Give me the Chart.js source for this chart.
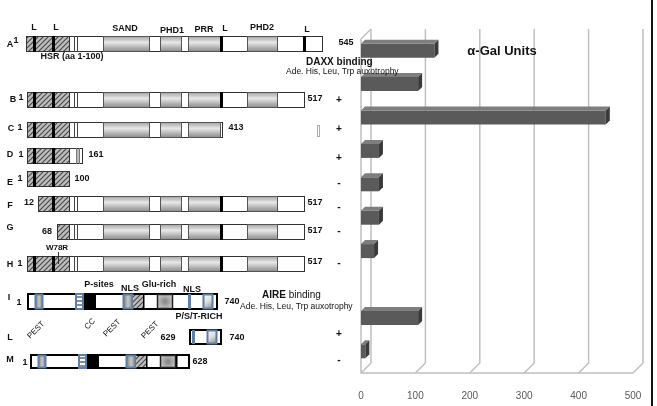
<!DOCTYPE html>
<html>
<head>
<meta charset="utf-8">
<script src="https://cdn.jsdelivr.net/npm/chart.js@4.4.1/dist/chart.umd.min.js"></script>
<style>
  html, body { margin: 0; padding: 0; background: #fff; }
  canvas { display: block; }
</style>
</head>
<body>
<canvas id="galChart" width="657" height="406"></canvas>
<script>
// alpha-Gal units per construct (row H has no bar)
const constructs = ["A", "B", "C", "D", "E", "F", "G", "H", "L", "M"];
const galUnits = [135, 105, 450, 33, 33, 33, 24, 0, 105, 8];
const xTicks = [0, 100, 200, 300, 400, 500];

const FONT = "'Liberation Sans', Arial, sans-serif";
const DEPTH = 10;
const BAR_DEPTH = 4;
const BLUE = "#5a7fa8";

// ---------- left schematic helpers ----------

let hatchPattern = null;

function getHatch(ctx) {
  if (hatchPattern) return hatchPattern;
  const c = document.createElement("canvas");
  c.width = 5;
  c.height = 5;
  const p = c.getContext("2d");
  p.fillStyle = "#bdbdbd";
  p.fillRect(0, 0, 5, 5);
  p.strokeStyle = "#4a4a4a";
  p.lineWidth = 1.2;
  p.beginPath();
  p.moveTo(0, 5); p.lineTo(5, 0);
  p.moveTo(-1, 1); p.lineTo(1, -1);
  p.moveTo(4, 6); p.lineTo(6, 4);
  p.stroke();
  hatchPattern = ctx.createPattern(c, "repeat");
  return hatchPattern;
}

function rect(ctx, x1, x2, y, h, fill, stroke, lw) {
  ctx.fillStyle = fill;
  ctx.fillRect(x1, y, x2 - x1, h);
  if (stroke) {
    ctx.strokeStyle = stroke;
    ctx.lineWidth = lw || 1;
    ctx.strokeRect(x1 + 0.5, y + 0.5, x2 - x1 - 1, h - 1);
  }
}

function tube(ctx, x1, x2, y, h) {
  const g = ctx.createLinearGradient(0, y, 0, y + h);
  g.addColorStop(0, "#a0a0a0");
  g.addColorStop(0.4, "#e8e8e8");
  g.addColorStop(1, "#858585");
  rect(ctx, x1, x2, y, h, g, "#555", 1);
}

function vline(ctx, x, y, h, color, w) {
  ctx.fillStyle = color;
  ctx.fillRect(x, y, w, h);
}

function text(ctx, str, x, y, size, bold, align, color) {
  ctx.font = (bold ? "bold " : "") + size + "px " + FONT;
  ctx.fillStyle = color || "#111";
  ctx.textAlign = align || "center";
  ctx.textBaseline = "middle";
  ctx.fillText(str, x, y);
}

function rotText(ctx, str, x, y) {
  ctx.save();
  ctx.translate(x, y);
  ctx.rotate(-Math.PI / 4);
  text(ctx, str, 0, 0, 8, false);
  ctx.restore();
}

function drawSp100(ctx, row) {
  const h = 16;
  const y = row.y;
  rect(ctx, row.from, row.to, y, h, "#fff", "#333", 1);
  // HSR hatched block
  ctx.fillStyle = getHatch(ctx);
  ctx.fillRect(row.from + 1, y + 1, 69 - row.from - 1, h - 2);
  vline(ctx, 69, y, h, "#333", 1);
  row.lLines.forEach(x => vline(ctx, x, y, h, "#000", 3));
  if (row.to <= 72) return;
  if (row.stub) {
    vline(ctx, 76, y + 1, h - 2, "#bbb", 3);
    vline(ctx, 76, y, h, "#777", 1);
    vline(ctx, 79, y, h, "#777", 1);
    return;
  }
  vline(ctx, 74, y, h, "#444", 1);
  vline(ctx, 77, y, h, "#444", 1);
  tube(ctx, 103, 150, y, h);
  tube(ctx, 160, 182, y, h);
  tube(ctx, 188, 221, y, h);
  if (row.to > 230) {
    vline(ctx, 220, y, h, "#000", 3);
    tube(ctx, 247, 278, y, h);
  }
  if (row.to > 310) vline(ctx, 303, y, h, "#000", 3);
}

function blueGray(ctx, x1, x2, y, h) {
  const g = ctx.createLinearGradient(x1, 0, x2, 0);
  g.addColorStop(0, "#777");
  g.addColorStop(0.5, "#c8c8c8");
  g.addColorStop(1, "#777");
  rect(ctx, x1, x2, y + 1, h - 2, g, BLUE, 2);
}

function stripes(ctx, x1, x2, y, h) {
  rect(ctx, x1, x2, y + 1, h - 2, "#fff", null);
  ctx.fillStyle = "#8a8a8a";
  for (let yy = y + 3; yy < y + h - 2; yy += 4) ctx.fillRect(x1, yy, x2 - x1, 2);
  ctx.strokeStyle = BLUE;
  ctx.lineWidth = 2;
  ctx.strokeRect(x1 + 1, y + 1, x2 - x1 - 2, h - 2);
}

function graySquare(ctx, x1, x2, y, h) {
  const cx = (x1 + x2) / 2, cy = y + h / 2;
  const g = ctx.createRadialGradient(cx, cy, 1, cx, cy, 9);
  g.addColorStop(0, "#8a8a8a");
  g.addColorStop(1, "#d0d0d0");
  rect(ctx, x1, x2, y, h, g, "#222", 1.5);
}

function diagBox(ctx, x1, x2, y, h) {
  const g = ctx.createLinearGradient(x1, y, x2, y + h);
  g.addColorStop(0, "#fff");
  g.addColorStop(0.5, "#ddd");
  g.addColorStop(1, "#777");
  rect(ctx, x1, x2, y + 1, h - 2, g, BLUE, 2);
}

function aireBox(ctx, x1, x2, y, h) {
  ctx.fillStyle = "#fff";
  ctx.fillRect(x1, y, x2 - x1, h);
  ctx.strokeStyle = "#000";
  ctx.lineWidth = 2;
  ctx.strokeRect(x1 + 1, y + 1, x2 - x1 - 2, h - 2);
}

function drawAireFull(ctx, x0, y, h, end) {
  aireBox(ctx, x0, end, y, h);
  const s = x0 - 27;
  blueGray(ctx, 35 + s, 43 + s, y, h);
  stripes(ctx, 75 + s, 84 + s, y, h);
  rect(ctx, 84 + s, 96 + s, y + 1, h - 2, "#000", null);
  blueGray(ctx, 123 + s, 133 + s, y, h);
  ctx.fillStyle = getHatch(ctx);
  ctx.fillRect(133 + s, y + 2, 10, h - 4);
  vline(ctx, 143 + s, y, h, "#000", 1.5);
  graySquare(ctx, 157 + s, 173 + s, y + 1, h - 2);
  if (end > 200) {
    vline(ctx, 188, y + 1, h - 2, BLUE, 3);
    diagBox(ctx, 203, 213, y, h);
  }
}

const sp100Rows = [
  { y: 36, from: 26, to: 323, lLines: [33, 52] },
  { y: 92, from: 27, to: 305, lLines: [33, 52] },
  { y: 122, from: 27, to: 223, lLines: [33, 52] },
  { y: 148, from: 27, to: 83, lLines: [33, 52], stub: true },
  { y: 171, from: 27, to: 70, lLines: [33, 52] },
  { y: 196, from: 38, to: 305, lLines: [52] },
  { y: 224, from: 57, to: 305, lLines: [] },
  { y: 256, from: 27, to: 305, lLines: [33, 52] }
];

const schematicPlugin = {
  id: "schematic",
  beforeDraw(chart) {
    const ctx = chart.ctx;
    ctx.save();
    sp100Rows.forEach(row => drawSp100(ctx, row));

    // W78R marker
    ctx.strokeStyle = "#333";
    ctx.lineWidth = 1;
    ctx.beginPath();
    ctx.moveTo(58.5, 252);
    ctx.lineTo(58.5, 264);
    ctx.stroke();

    // small dotted mark next to C
    ctx.setLineDash([1, 1]);
    ctx.strokeStyle = "#555";
    ctx.strokeRect(317.5, 125.5, 2, 11);
    ctx.setLineDash([]);

    drawAireFull(ctx, 27, 293, 17, 218);
    drawAireFull(ctx, 30, 354, 15, 190);
    vline(ctx, 176, 355, 13, "#000", 1.5);
    aireBox(ctx, 189, 222, 329, 16);
    vline(ctx, 192, 330, 14, BLUE, 3);
    diagBox(ctx, 207, 217, 329, 16);
    ctx.restore();
  },
  afterDraw(chart) {
    const ctx = chart.ctx;
    ctx.save();

    // row letters and start residues
    [["A", 10, 45], ["B", 13, 100], ["C", 11, 129], ["D", 10, 155], ["E", 10, 183],
     ["F", 10, 206], ["G", 10, 228], ["H", 10, 265], ["I", 9, 298], ["L", 10, 338], ["M", 10, 360]]
      .forEach(r => text(ctx, r[0], r[1], r[2], 9, true));
    [["1", 16, 41], ["1", 21, 98], ["1", 20, 128], ["1", 21, 155], ["1", 20, 179],
     ["12", 29, 203], ["68", 47, 232], ["1", 20, 264], ["1", 19, 303], ["1", 25, 363]]
      .forEach(r => text(ctx, r[0], r[1], r[2], 9, true));

    // end residues
    [["545", 346, 43], ["517", 315, 99], ["413", 236, 128], ["161", 96, 155], ["100", 82, 179],
     ["517", 315, 203], ["517", 315, 231], ["517", 315, 262], ["740", 232, 302],
     ["629", 168, 338], ["740", 237, 338], ["628", 200, 362]]
      .forEach(r => text(ctx, r[0], r[1], r[2], 9, true));

    // growth
    [["+", 100], ["+", 129], ["+", 158], ["-", 183], ["-", 207], ["-", 231], ["-", 263], ["+", 334], ["-", 360]]
      .forEach(r => text(ctx, r[0], 339, r[1], 10, true));

    // Sp100 domain labels
    [["L", 34, 28], ["L", 56, 28], ["SAND", 125, 29], ["PHD1", 172, 31], ["PRR", 204, 30],
     ["L", 225, 29], ["PHD2", 262, 28], ["L", 307, 30]]
      .forEach(r => text(ctx, r[0], r[1], r[2], 9, true));
    text(ctx, "HSR (aa 1-100)", 72, 57, 9, true);
    text(ctx, "W78R", 57, 248, 8, true);

    // AIRE labels
    [["P-sites", 99, 285], ["NLS", 130, 289], ["Glu-rich", 159, 285], ["NLS", 192, 290],
     ["P/S/T-RICH", 199, 317]]
      .forEach(r => text(ctx, r[0], r[1], r[2], 9, true));
    rotText(ctx, "PEST", 36, 330);
    rotText(ctx, "CC", 90, 324);
    rotText(ctx, "PEST", 112, 328);
    rotText(ctx, "PEST", 150, 330);

    // binding notes
    text(ctx, "DAXX binding", 306, 62, 10, true, "left");
    text(ctx, "Ade. His, Leu, Trp auxotrophy", 286, 72, 8.5, false, "left");
    ctx.font = "bold 10px " + FONT;
    const aw = ctx.measureText("AIRE").width;
    text(ctx, "AIRE", 262, 295, 10, true, "left");
    text(ctx, " binding", 262 + aw, 295, 10, false, "left");
    text(ctx, "Ade. His, Leu, Trp auxotrophy", 240, 307, 8.5, false, "left");

    text(ctx, "\u03b1-Gal Units", 502, 51, 13, true);

    // frame line on the right
    ctx.fillStyle = "#111";
    ctx.fillRect(651, 0, 2, 406);
    ctx.restore();
  }
};

// ---------- 3D look for the bar chart ----------

const depthPlugin = {
  id: "depth",
  beforeDatasetsDraw(chart) {
    const ctx = chart.ctx;
    const area = chart.chartArea;
    const xs = chart.scales.x;
    const front = area.bottom + 5;
    ctx.save();
    ctx.strokeStyle = "#c0c0c0";
    ctx.lineWidth = 1.5;
    xTicks.forEach(v => {
      const x = xs.getPixelForValue(v);
      ctx.beginPath();
      ctx.moveTo(x + DEPTH, area.top - 5);
      ctx.lineTo(x + DEPTH, front - DEPTH);
      ctx.lineTo(x, front);
      ctx.stroke();
    });
    const x0 = xs.getPixelForValue(0);
    ctx.beginPath();
    ctx.moveTo(x0 + DEPTH, area.top - 5);
    ctx.lineTo(x0, area.top + 5);
    ctx.lineTo(x0, front);
    ctx.lineTo(xs.getPixelForValue(500), front);
    ctx.stroke();
    ctx.restore();
  },
  afterDatasetsDraw(chart) {
    const ctx = chart.ctx;
    const meta = chart.getDatasetMeta(0);
    ctx.save();
    meta.data.forEach((bar, i) => {
      if (!galUnits[i]) return;
      const p = bar.getProps(["x", "y", "base", "height"], true);
      const top = p.y - p.height / 2;
      const bottom = p.y + p.height / 2;
      const d = BAR_DEPTH;
      ctx.fillStyle = "#7e7e7e";
      ctx.beginPath();
      ctx.moveTo(p.base, top);
      ctx.lineTo(p.base + d, top - d);
      ctx.lineTo(p.x + d, top - d);
      ctx.lineTo(p.x, top);
      ctx.closePath();
      ctx.fill();
      ctx.fillStyle = "#3a3a3a";
      ctx.beginPath();
      ctx.moveTo(p.x, top);
      ctx.lineTo(p.x + d, top - d);
      ctx.lineTo(p.x + d, bottom - d);
      ctx.lineTo(p.x, bottom);
      ctx.closePath();
      ctx.fill();
    });
    ctx.restore();
  }
};

new Chart(document.getElementById("galChart"), {
  type: "bar",
  data: {
    labels: constructs,
    datasets: [{
      label: "\u03b1-Gal Units",
      data: galUnits,
      backgroundColor: "#5a5a5a",
      borderWidth: 0,
      barPercentage: 0.42,
      categoryPercentage: 1
    }]
  },
  options: {
    indexAxis: "y",
    responsive: false,
    animation: false,
    devicePixelRatio: 1,
    layout: {
      padding: { left: 361, right: 24, top: 34, bottom: 0 }
    },
    plugins: {
      legend: { display: false },
      tooltip: { enabled: false }
    },
    scales: {
      x: {
        min: 0,
        max: 500,
        afterFit: s => { s.height = 38; },
        afterBuildTicks: s => { s.ticks = xTicks.map(v => ({ value: v })); },
        ticks: {
          color: "#595959",
          padding: 14,
          font: { family: FONT, size: 10 }
        },
        grid: { display: false },
        border: { display: false }
      },
      y: {
        display: false
      }
    }
  },
  plugins: [schematicPlugin, depthPlugin]
});
</script>
</body>
</html>
